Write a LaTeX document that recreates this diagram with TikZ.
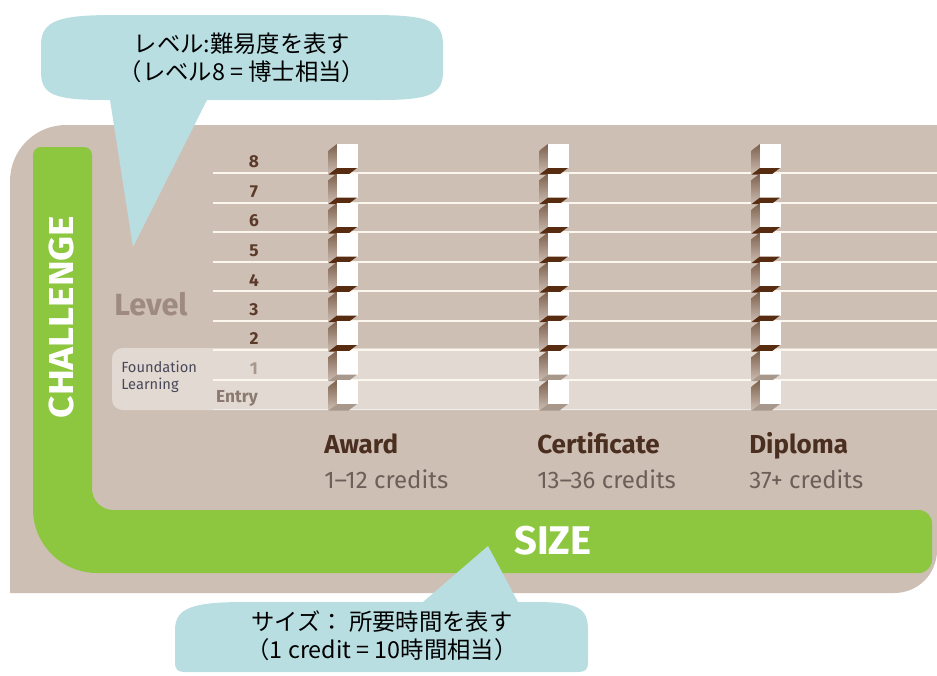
\documentclass[tikz,border=0pt]{standalone}
\usepackage{fontspec}
\setmainfont{Fira Sans}
\newfontfamily\cjk{Noto Sans CJK JP}
\definecolor{tan}{RGB}{206,191,181}
\definecolor{found}{RGB}{226,217,210}
\definecolor{grn}{RGB}{141,198,63}
\definecolor{callout}{RGB}{184,222,226}
\definecolor{numbrown}{RGB}{92,58,42}
\definecolor{levelgrey}{RGB}{158,138,128}
\definecolor{darkface}{RGB}{88,44,16}
\definecolor{lightface}{RGB}{168,152,140}
\definecolor{sidetop}{RGB}{125,95,75}
\definecolor{sidebot}{RGB}{205,190,180}
\definecolor{stripe}{RGB}{251,246,238}
\definecolor{headbrown}{RGB}{74,46,32}
\definecolor{credgrey}{RGB}{108,94,88}
\definecolor{fndtext}{RGB}{72,72,88}
\definecolor{entrygrey}{RGB}{138,122,112}
\begin{document}
\begin{tikzpicture}[x=0.75pt,y=-0.75pt,
  bubble/.style={fill=callout},
  bubbletext/.style={font=\cjk\fontsize{17.5}{21}\selectfont, align=center, text=black, inner sep=0pt},
  levnum/.style={font=\bfseries\fontsize{13}{13}\selectfont, text=numbrown, inner sep=0pt},
  head/.style={font=\bfseries\fontsize{19.5}{20}\selectfont, text=headbrown, anchor=base west, inner sep=0pt},
  cred/.style={font=\fontsize{18}{19}\selectfont, text=credgrey, anchor=base west, inner sep=0pt},
  axislabel/.style={text=white, inner sep=0pt},
  stripeline/.style={draw=stripe, line width=1.5pt}]
\useasboundingbox (0,0) rectangle (937,675);
% panel
\fill[tan] (10,300) [rounded corners=42] -- (10,125) [sharp corners] -- (937,125) -- (937,400) [rounded corners=32] -- (937,593) [sharp corners] -- (10,593) -- cycle;
% green L
\fill[grn] (33,300) [rounded corners=6] -- (33,147) -- (92,147) [rounded corners=16] -- (92,510) [rounded corners=10] -- (932,510) -- (932,573) [rounded corners=48] -- (33,573) [sharp corners] -- cycle;
% foundation area
\fill[found] (200,348) [rounded corners=8] -- (112,348) -- (112,410) [sharp corners] -- (937,410) -- (937,348) -- cycle;
% stripes
\foreach \i in {0,...,7}{
  \pgfmathsetmacro{\ly}{173+29.5*\i}
  \draw[stripeline] (213,\ly) -- (937,\ly);
}
\draw[draw=white, opacity=0.5, line width=1pt] (213,409.5) -- (937,409.5);
% blocks
\foreach \cx in {337,548,760}{
  \foreach \i in {0,...,8}{
    \pgfmathsetmacro{\ly}{173+29.5*\i}
    \pgfmathsetmacro{\yt}{\ly-29}
    \pgfmathsetmacro{\yb}{\ly-5}
    \pgfmathsetmacro{\yc}{\ly+1.5}
    \ifnum\i<7
      \def\facecol{darkface}
    \else
      \def\facecol{lightface}
    \fi
    \shade[top color=sidetop, bottom color=sidebot] (\cx,\yt) -- (\cx-8.5,\yt+6.5) -- (\cx-8.5,\yc) -- (\cx,\yb) -- cycle;
    \fill[white] (\cx,\yt) rectangle (\cx+20.5,\yb);
    \fill[\facecol] (\cx,\yb) -- (\cx+20,\yb) -- (\cx+11.5,\yc) -- (\cx-8.5,\yc) -- cycle;
  }
}
% level numbers
\node[levnum] (n8) at (254,162) {8};
\node[levnum] (n7) at (254,191.5) {7};
\node[levnum] (n6) at (254,221) {6};
\node[levnum] (n5) at (254,250.5) {5};
\node[levnum] (n4) at (254,280) {4};
\node[levnum] (n3) at (254,309.5) {3};
\node[levnum] (n2) at (254,339) {2};
\node[levnum, text=lightface] (n1) at (254,368.5) {1};
\node[levnum, text=entrygrey] (nE) at (237,398) {Entry};
\node[font=\bfseries\fontsize{23}{23}\selectfont, text=levelgrey, inner sep=0pt] (level) at (151,304) {Level};
\node[font=\fontsize{11}{12.5}\selectfont, text=fndtext, align=left, anchor=west, inner sep=0pt] (fnd) at (121,377) {Foundation\\Learning};
% axis labels
\node[axislabel, rotate=90, xscale=1.12, font=\bfseries\fontsize{26}{26}\selectfont] (chal) at (61,317) {CHALLENGE};
\node[axislabel, font=\bfseries\fontsize{30}{30}\selectfont] (size) at (553,541) {SIZE};
% column headings
\node[head] (award) at (324,453) {Award};
\node[cred] (awardc) at (324,488) {1–12 credits};
\node[head] (cert) at (537,453) {Certificate};
\node[cred] (certc) at (537,488) {13–36 credits};
\node[head] (dipl) at (749,453) {Diploma};
\node[cred] (diplc) at (749,488) {37+ credits};
% callouts
\fill[bubble] (41,45) .. controls (41,20) and (60,15) .. (115,15) -- (370,15) .. controls (428,15) and (443,20) .. (443,45) -- (443,72) .. controls (443,95) and (428,100) .. (380,100) -- (207,100) -- (133,247) -- (110,100) -- (105,100) .. controls (55,100) and (41,95) .. (41,72) -- cycle;
\node[bubbletext] (b1) at (242,58) {レベル:難易度を表す\\（レベル8 = 博士相当）};
\fill[bubble] (175,630) .. controls (175,608) and (192,602) .. (245,602) -- (423,602) -- (488,546) -- (518,602) -- (535,602) .. controls (578,602) and (588,608) .. (588,630) -- (588,662) .. controls (588,670) and (585,672) .. (578,672) -- (185,672) .. controls (178,672) and (175,670) .. (175,662) -- cycle;
\node[bubbletext] (b2) at (382,636) {サイズ：\ 所要時間を表す\\（1 credit = 10時間相当）};
\end{tikzpicture}
\end{document}
